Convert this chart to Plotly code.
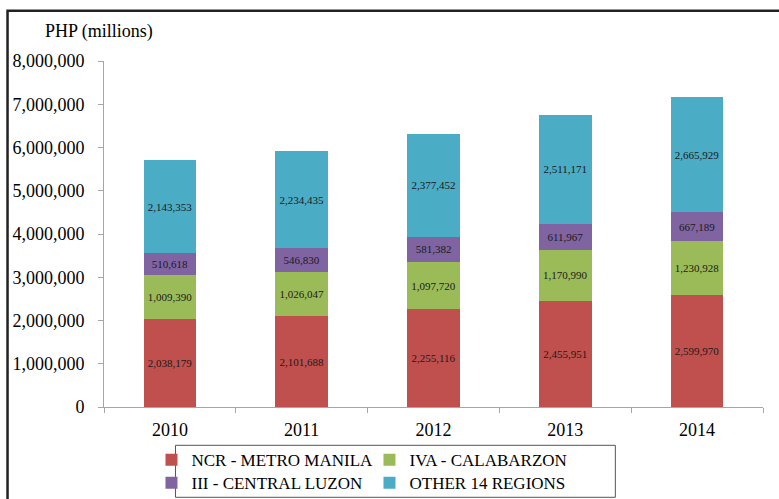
import plotly.graph_objects as go

years = ["2010", "2011", "2012", "2013", "2014"]
ncr = [2038179, 2101688, 2255116, 2455951, 2599970]
iva = [1009390, 1026047, 1097720, 1170990, 1230928]
iii = [510618, 546830, 581382, 611967, 667189]
other = [2143353, 2234435, 2377452, 2511171, 2665929]

series_names = ["NCR - METRO MANILA", "IVA - CALABARZON", "III - CENTRAL LUZON", "OTHER 14 REGIONS"]
series_values = [ncr, iva, iii, other]
colors = ["#C0504D", "#9BBB59", "#8064A2", "#4BACC6"]
legend_rows = ["legend", "legend", "legend2", "legend2"]
y_ticks = [0, 1000000, 2000000, 3000000, 4000000, 5000000, 6000000, 7000000, 8000000]

FONT = "Liberation Serif, Times New Roman, serif"

fig = go.Figure()
for name, vals, col, lg in zip(series_names, series_values, colors, legend_rows):
    fig.add_trace(go.Bar(
        x=years, y=vals, name=name, legend=lg,
        marker=dict(color=col, line=dict(width=0)),
        texttemplate="%{y:,}", textposition="inside",
        insidetextanchor="middle", textangle=0, constraintext="none",
        textfont=dict(family=FONT, size=11, color="#1a1a1a"),
    ))

W, H = 779, 499
L, R, T, B = 103.5, 16.3, 60.7, 92.3
pw = W - L - R
ph = H - T - B
y0px = T + ph


def px_x(x):
    return (x - L) / pw


def px_y(y):
    return (y0px - y) / ph


legend_common = dict(
    orientation="h", traceorder="normal",
    xanchor="left", yanchor="middle",
    entrywidth=173, entrywidthmode="pixels",
    font=dict(family=FONT, size=17, color="black"),
    borderwidth=0, bgcolor="rgba(0,0,0,0)",
    itemwidth=30, tracegroupgap=0,
)

fig.update_layout(
    width=W, height=H,
    barmode="stack", bargap=0.6,
    margin=dict(l=L, r=R, t=T, b=B, autoexpand=False),
    paper_bgcolor="white", plot_bgcolor="white",
    font=dict(family=FONT, color="black"),
    showlegend=True,
    legend=dict(x=px_x(151), y=px_y(460), **legend_common),
    legend2=dict(x=px_x(151), y=px_y(483), **legend_common),
    xaxis=dict(
        showline=True, linecolor="#A6A6A6", linewidth=1,
        ticks="outside", tickson="boundaries", ticklen=5, tickcolor="#A6A6A6",
        tickfont=dict(family=FONT, size=18, color="black"),
        ticklabelstandoff=6,
        showgrid=False, zeroline=False,
    ),
    yaxis=dict(
        range=[0, 8000000], tickvals=y_ticks, tickformat=",",
        showline=True, linecolor="#A6A6A6", linewidth=1,
        ticks="outside", ticklen=5, tickcolor="#A6A6A6",
        tickfont=dict(family=FONT, size=18, color="black"),
        ticklabelstandoff=10,
        showgrid=False, zeroline=False,
    ),
)

fig.add_annotation(
    text="PHP (millions)", xref="paper", yref="paper",
    x=px_x(98.5), y=px_y(31), xanchor="center", yanchor="middle",
    showarrow=False, font=dict(family=FONT, size=18, color="black"),
)

# legend box
fig.add_shape(
    type="rect", xref="paper", yref="paper",
    x0=px_x(175), x1=px_x(615), y0=px_y(497), y1=px_y(445),
    line=dict(color="#555555", width=1), fillcolor="rgba(0,0,0,0)", layer="below",
)

# outer frame (left and top edges visible, rest extends past the canvas)
fig.add_shape(
    type="rect", xref="paper", yref="paper",
    x0=px_x(7), x1=px_x(W + 20),
    y0=px_y(H + 20), y1=px_y(10.5),
    line=dict(color="#222222", width=2.5), fillcolor="rgba(0,0,0,0)", layer="above",
)

fig.write_html(
    "out.html",
    config={"displayModeBar": False},
    post_script="document.body.style.margin='0';document.body.style.padding='0';",
)
